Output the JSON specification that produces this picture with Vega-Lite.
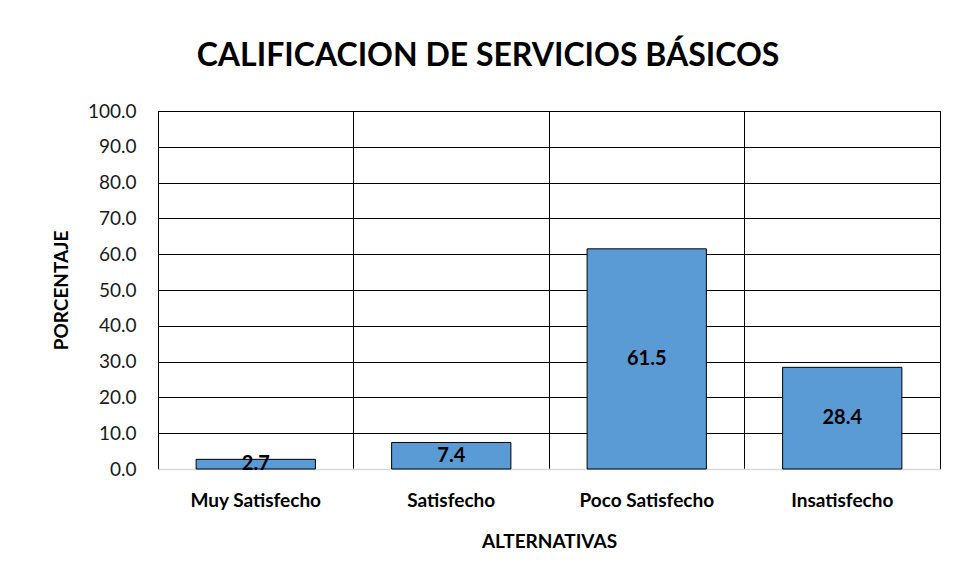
{
  "$schema": "https://vega.github.io/schema/vega-lite/v6.json",
  "autosize": "none",
  "width": 782,
  "height": 358,
  "padding": {"left": 158, "top": 111, "right": 16, "bottom": 114},
  "background": "white",
  "title": {
    "text": "CALIFICACION DE SERVICIOS BÁSICOS",
    "font": "Lato",
    "fontSize": 32,
    "fontWeight": "bold",
    "color": "#000000",
    "anchor": "middle",
    "dx": -61,
    "offset": 29
  },
  "data": {
    "values": [
      {"alternativa": "Muy Satisfecho", "porcentaje": 2.7},
      {"alternativa": "Satisfecho", "porcentaje": 7.4},
      {"alternativa": "Poco Satisfecho", "porcentaje": 61.5},
      {"alternativa": "Insatisfecho", "porcentaje": 28.4}
    ]
  },
  "encoding": {
    "x": {
      "field": "alternativa",
      "type": "nominal",
      "sort": null,
      "scale": {"paddingInner": 0.39, "paddingOuter": 0.195},
      "axis": {
        "title": "ALTERNATIVAS",
        "labelAngle": 0,
        "ticks": false,
        "bandPosition": -0.31967,
        "domainColor": "#d9d9d9",
        "domainWidth": 1.5,
        "grid": true,
        "gridColor": "#000000",
        "gridWidth": 1,
        "gridOpacity": 1,
        "labelFont": "Lato",
        "labelFontSize": 19,
        "labelFontWeight": "bold",
        "labelColor": "#000000",
        "labelPadding": 22,
        "titleFont": "Lato",
        "titleFontSize": 19,
        "titleFontWeight": "bold",
        "titleColor": "#000000",
        "titlePadding": 22
      }
    }
  },
  "layer": [
    {
      "mark": {"type": "bar", "color": "#5B9BD5", "stroke": "#000000", "strokeWidth": 1},
      "encoding": {
        "y": {
          "field": "porcentaje",
          "type": "quantitative",
          "scale": {"domain": [0, 100], "nice": false},
          "axis": {
            "title": "PORCENTAJE",
            "values": [0, 10, 20, 30, 40, 50, 60, 70, 80, 90, 100],
            "format": ".1f",
            "ticks": false,
            "domain": false,
            "grid": true,
            "gridColor": {"condition": {"test": "datum.value === 0", "value": "#d9d9d9"}, "value": "#000000"},
            "gridWidth": 1,
            "gridOpacity": 1,
            "labelFont": "Lato",
            "labelFontSize": 19,
            "labelColor": "#1a1a1a",
            "labelPadding": 22,
            "labelOverlap": false,
            "titleFont": "Lato",
            "titleFontSize": 19,
            "titleFontWeight": "bold",
            "titleColor": "#000000",
            "titlePadding": 16
          }
        }
      }
    },
    {
      "transform": [{"calculate": "datum.porcentaje / 2", "as": "mitad"}],
      "mark": {"type": "text", "font": "Lato", "fontSize": 20, "fontWeight": "bold", "color": "#000000", "baseline": "middle"},
      "encoding": {
        "y": {
          "field": "mitad",
          "type": "quantitative",
          "axis": {
            "title": "PORCENTAJE",
            "values": [0, 10, 20, 30, 40, 50, 60, 70, 80, 90, 100],
            "format": ".1f",
            "ticks": false,
            "domain": false,
            "grid": true,
            "gridColor": {"condition": {"test": "datum.value === 0", "value": "#d9d9d9"}, "value": "#000000"},
            "gridWidth": 1,
            "gridOpacity": 1,
            "labelFont": "Lato",
            "labelFontSize": 19,
            "labelColor": "#1a1a1a",
            "labelPadding": 22,
            "labelOverlap": false,
            "titleFont": "Lato",
            "titleFontSize": 19,
            "titleFontWeight": "bold",
            "titleColor": "#000000",
            "titlePadding": 16
          }
        },
        "text": {"field": "porcentaje", "type": "quantitative", "format": ".1f"}
      }
    }
  ],
  "config": {
    "view": {"stroke": "#000000", "strokeWidth": 1}
  }
}
